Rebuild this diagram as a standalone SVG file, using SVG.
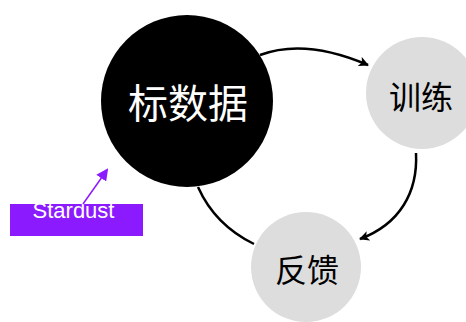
<svg xmlns="http://www.w3.org/2000/svg" width="466" height="322" viewBox="0 0 466 322">
<style>
.lbl{font-family:"Noto Sans CJK SC","Noto Sans",sans-serif;text-anchor:middle;dominant-baseline:central}
.edge{fill:none;stroke:#000;stroke-width:2.5}
</style>
<defs>
<marker id="ah" markerWidth="10" markerHeight="10" refX="9" refY="5" orient="auto" markerUnits="userSpaceOnUse" viewBox="0 0 10 10">
<path d="M0,0 L10,5 L0,10 L2.5,5 Z" fill="#000"/>
</marker>
<marker id="ahp" markerWidth="12" markerHeight="12" refX="10" refY="6" orient="auto" markerUnits="userSpaceOnUse" viewBox="0 0 12 12">
<path d="M0,0 L12,6 L0,12 Z" fill="#8c1aff"/>
</marker>
</defs>
<rect width="466" height="322" fill="#fff"/>
<g id="connectors">
<path class="edge" d="M260,55 Q305,38 368,65" marker-end="url(#ah)"/>
<path class="edge" d="M416,153 C418,192 400,224 360,239" marker-end="url(#ah)"/>
<path class="edge" d="M198,187 Q215,225 254,244"/>
</g>
<g id="node-label">
<circle cx="187" cy="101" r="86" fill="#000"/>
<text class="lbl" x="188" y="101" font-size="40" fill="#fff">标数据</text>
</g>
<g id="node-train">
<circle cx="422" cy="93" r="56" fill="#dddddd"/>
<text class="lbl" x="421" y="95" font-size="32" fill="#000">训练</text>
</g>
<g id="node-feedback">
<circle cx="306" cy="267" r="55" fill="#dddddd"/>
<text class="lbl" x="307" y="268" font-size="32" fill="#000">反馈</text>
</g>
<g id="stardust">
<rect x="10" y="204" width="133" height="32" fill="#8c1aff"/>
<text x="73.5" y="218" font-size="22" font-family="Liberation Sans, Arial, sans-serif" text-anchor="middle" fill="#fff">Stardust</text>
<path d="M83,204 L107,170" stroke="#8c1aff" stroke-width="1.5" fill="none" marker-end="url(#ahp)"/>
</g>
</svg>
